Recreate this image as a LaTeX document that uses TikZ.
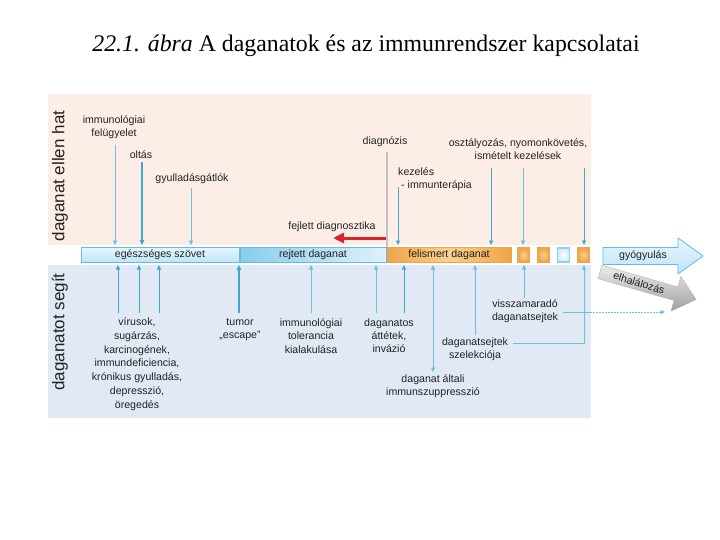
\documentclass[tikz,border=0pt]{standalone}
\usepackage{fontspec}
\setmainfont{Liberation Serif}
\newfontfamily\labfont{Liberation Sans}
\usetikzlibrary{arrows.meta,calc}
\definecolor{pinkbg}{HTML}{FCEEE7}
\definecolor{bluebg}{HTML}{E1E9F5}
\definecolor{arr}{HTML}{3FA6D6}
\definecolor{arrlight}{HTML}{6FBDE2}
\definecolor{barb}{HTML}{62BCE6}
\definecolor{egtop}{HTML}{E6F6FD}
\definecolor{egbot}{HTML}{BFE5F7}
\definecolor{orng}{HTML}{EFA448}
\definecolor{orngl}{HTML}{F9D08E}
\definecolor{redarr}{HTML}{D8262C}
\definecolor{diagline}{HTML}{C9C0BA}
\definecolor{txt}{HTML}{222222}
\begin{document}
\begin{tikzpicture}[x=1pt,y=-1pt,
  lbl/.style={font=\labfont\fontsize{10.6}{13.2}\selectfont, align=center, inner sep=0pt, text=txt},
  side/.style={font=\labfont\fontsize{17}{17}\selectfont, rotate=90, inner sep=0pt, text=txt},
  thinarr/.style={draw=arrlight, line width=0.6pt, -{Triangle[length=4.5pt,width=4pt]}},
  thickarr/.style={draw=arr, line width=1.1pt, -{Triangle[length=5pt,width=4.5pt]}},
  midarr/.style={draw=arr, line width=0.8pt, -{Triangle[length=4.5pt,width=4pt]}},
  sq/.style={draw=orng, line width=1.2pt, inner color=orngl, outer color=orng},
]
\useasboundingbox (0,0) rectangle (720,540);
\fill[white] (0,0) rectangle (720,540);
% title
\node[font=\fontsize{23.8}{28}\selectfont, inner sep=0pt] (title) at (366,46) {\textit{22.1. ábra} A daganatok és az immunrendszer kapcsolatai};
% panels
\fill[pinkbg] (48,94) rectangle (591,245);
\fill[bluebg] (48,265) rectangle (591,418);
\node[side] (sidetop) at (60,176) {daganat ellen hat};
\node[side] (sidebot) at (60,332) {daganatot segít};
% bar
\shade[top color=egtop, bottom color=egbot, draw=barb, line width=0.8pt] (81,247.5) rectangle (239.5,262.5);
\node[lbl] (egesz) at (160,255) {egészséges szövet};
\shade[left color=barb!75, right color=barb!20, draw=barb, line width=0.8pt] (240.5,247.5) rectangle (386.5,262.5);
\node[lbl] (rejt) at (313,255) {rejtett daganat};
\shade[left color=orng, right color=orng, middle color=orngl, draw=orng, line width=0.8pt] (387.5,247.5) rectangle (511,262.5);
\node[lbl] (feli) at (449,255) {felismert daganat};
\shade[sq] (517.5,248) rectangle (529.5,262);
\shade[sq] (537.5,248) rectangle (549.5,262);
\shade[draw=barb!70, line width=1.2pt, inner color=white, outer color=barb!30] (557.5,248) rectangle (569.5,262);
\shade[sq] (577.5,248) rectangle (589.5,262);
% big arrows
\shade[top color=egtop, bottom color=egbot, draw=barb, line width=0.8pt]
  (603,247.5) -- (678,247.5) -- (678,238) -- (703,256) -- (678,274) -- (678,264.5) -- (603,264.5) -- cycle;
\node[lbl] (gyogy) at (643,256) {gyógyulás};
\begin{scope}[shift={(600,272)}, rotate=-16]
  \shade[top color=gray!15, bottom color=gray!75, draw=gray!60, line width=0.4pt]
    (0,7) -- (79,7) -- (79,18) -- (100,0) -- (79,-18) -- (79,-7) -- (0,-7) -- cycle;
\end{scope}
\node[lbl, rotate=-17] (elhal) at (639,283) {elhalálozás};
% top labels and arrows
\node[lbl] (immfel) at (114,127) {immunológiai\\felügyelet};
\coordinate (a1s) at (115,145); \coordinate (a1e) at (115,245);
\draw[thinarr] (a1s) -- (a1e);
\node[lbl] (oltas) at (141,155) {oltás};
\coordinate (a2s) at (142,162); \coordinate (a2e) at (142,245);
\draw[thickarr] (a2s) -- (a2e);
\node[lbl] (gyull) at (192,179) {gyulladásgátlók};
\coordinate (a3s) at (191,188); \coordinate (a3e) at (191,245);
\draw[thinarr] (a3s) -- (a3e);
\node[lbl] (diag) at (385,142) {diagnózis};
\coordinate (dls) at (387,152); \coordinate (dle) at (387,247);
\draw[diagline, line width=1.5pt] (dls) -- (dle);
\node[lbl, align=left, anchor=north west] (kez) at (398,167) {kezelés\\\hspace{3pt}- immunterápia};
\coordinate (a4s) at (398,187); \coordinate (a4e) at (398,245);
\draw[midarr] (a4s) -- (a4e);
\coordinate (rs) at (386,238); \coordinate (re) at (333,238);
\draw[redarr, line width=3pt, -{Triangle[length=11pt,width=10pt]}] (rs) -- (re);
\node[lbl] (fejl) at (332,227) {fejlett diagnosztika};
\node[lbl] (oszt) at (518,149) {osztályozás, nyomonkövetés,\\ismételt kezelések};
\coordinate (a5s) at (491,168); \coordinate (a5e) at (491,245);
\draw[midarr] (a5s) -- (a5e);
\coordinate (a6s) at (523,168); \coordinate (a6e) at (523,245);
\draw[thinarr] (a6s) -- (a6e);
\coordinate (a7s) at (584,168); \coordinate (a7e) at (584,245);
\draw[midarr] (a7s) -- (a7e);
% bottom labels and arrows
\node[lbl, font=\labfont\fontsize{10.6}{13.8}\selectfont] (virus) at (137,364) {vírusok,\\sugárzás,\\karcinogének,\\immundeficiencia,\\krónikus gyulladás,\\depresszió,\\öregedés};
\foreach \xx/\nm in {118/b1,139/b2,159/b3}{
  \coordinate (\nm s) at (\xx,313); \coordinate (\nm e) at (\xx,265);
  \draw[midarr] (\nm s) -- (\nm e);
}
\node[lbl] (tumor) at (240,329.5) {tumor\\„escape”};
\coordinate (b4s) at (239,313); \coordinate (b4e) at (239,265);
\draw[thickarr] (b4s) -- (b4e);
\node[lbl] (toler) at (311,336) {immunológiai\\tolerancia\\kialakulása};
\coordinate (b5s) at (311,313); \coordinate (b5e) at (311,265);
\draw[thinarr] (b5s) -- (b5e);
\node[lbl] (attet) at (389,336) {daganatos\\áttétek,\\invázió};
\coordinate (b6s) at (376,313); \coordinate (b6e) at (376,265);
\draw[thinarr] (b6s) -- (b6e);
\coordinate (b7s) at (404,313); \coordinate (b7e) at (404,265);
\draw[midarr] (b7s) -- (b7e);
\node[lbl] (szupp) at (433,386) {daganat általi\\immunszuppresszió};
\coordinate (b8s) at (433,372); \coordinate (b8e) at (433,265);
\draw[thinarr, {Triangle[length=4.5pt,width=4pt]}-{Triangle[length=4.5pt,width=4pt]}] (b8s) -- (b8e);
\node[lbl] (szel) at (475,349.5) {daganatsejtek\\szelekciója};
\coordinate (b9s) at (475,335); \coordinate (b9e) at (475,265);
\draw[thinarr] (b9s) -- (b9e);
\coordinate (c1) at (513,343); \coordinate (c2) at (584,343); \coordinate (c3) at (584,265);
\draw[thinarr] (c1) -- (c2) -- (c3);
\node[lbl] (vissz) at (525,311) {visszamaradó\\daganatsejtek};
\coordinate (b10s) at (524,298); \coordinate (b10e) at (524,265);
\draw[thinarr] (b10s) -- (b10e);
\coordinate (e1) at (563,312); \coordinate (e2) at (590,312); \coordinate (e3) at (665,312);
\draw[arrlight, line width=0.7pt] (e1) -- (e2);
\draw[arrlight, line width=0.7pt, dash pattern=on 1.5pt off 1.5pt, -{Triangle[length=4.5pt,width=4pt]}] (e2) -- (e3);
\end{tikzpicture}
\end{document}
